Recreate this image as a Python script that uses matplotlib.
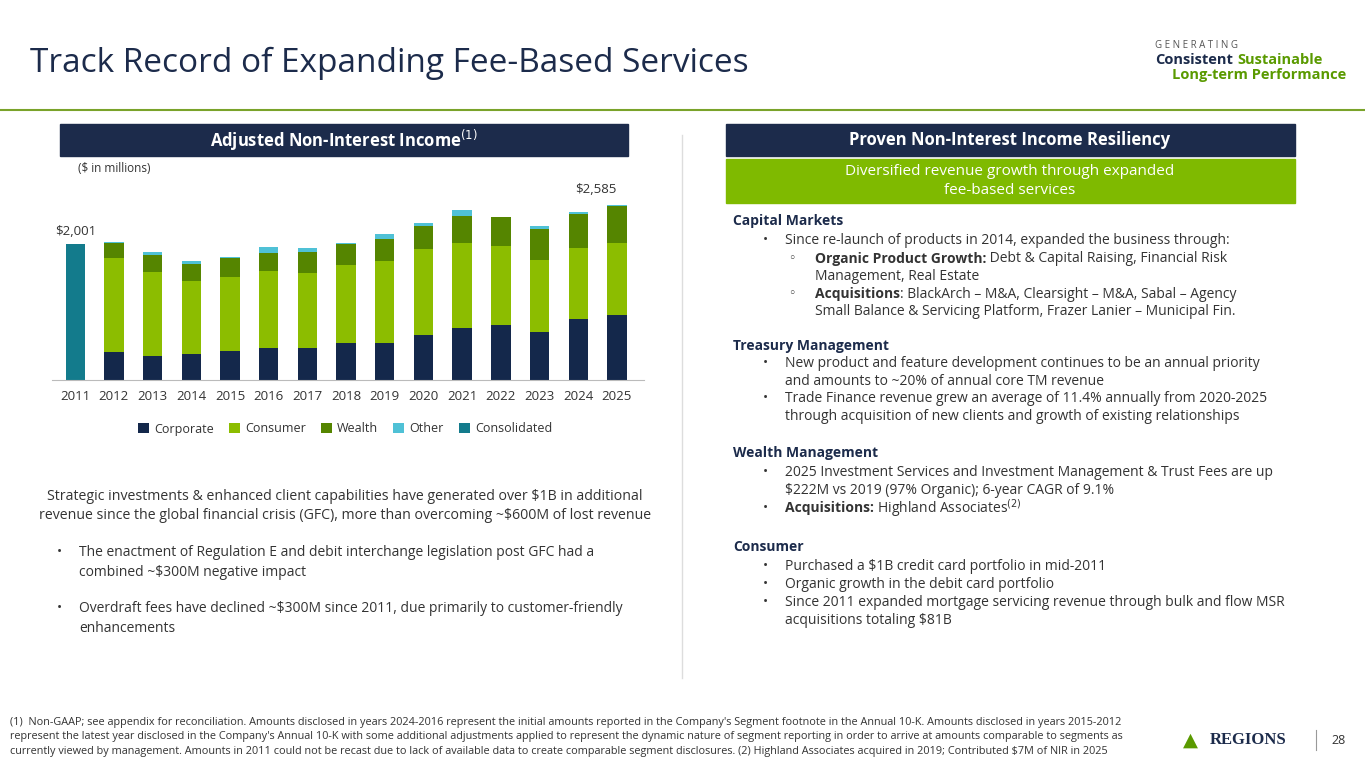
import matplotlib
matplotlib.use("Agg")
import matplotlib.pyplot as plt
import numpy as np
from matplotlib.patches import Rectangle

plt.rcParams['font.family'] = ['Open Sans', 'DejaVu Sans']

# data ($ in millions)
years = ['2011', '2012', '2013', '2014', '2015', '2016', '2017', '2018',
         '2019', '2020', '2021', '2022', '2023', '2024', '2025']
consolidated = [2001, 0, 0, 0, 0, 0, 0, 0, 0, 0, 0, 0, 0, 0, 0]
corporate = [0, 412, 353, 382, 426, 475, 475, 539, 539, 666, 760, 809, 711, 902, 965]
consumer = [0, 1387, 1245, 1073, 1088, 1137, 1103, 1152, 1210, 1259, 1259, 1161, 1054, 1039, 1052]
wealth = [0, 220, 245, 250, 284, 265, 314, 314, 328, 343, 392, 426, 461, 505, 549]
other = [0, 15, 49, 44, 15, 78, 49, 10, 69, 49, 93, 0, 49, 25, 19]

NAVY = '#14284b'
LGREEN = '#8cbd00'
DGREEN = '#558500'
CYAN = '#4fc1d6'
TEAL = '#137b8c'
HDR = '#1c2b4b'
GREY = '#333333'

W, H = 1365, 768
fig = plt.figure(figsize=(13.65, 7.68), dpi=100)
rend = fig.canvas.get_renderer()

def px(x, y):
    return x / W, 1 - y / H

def txt(x, y, s, **kw):
    return fig.text(*px(x, y), s, **kw)

def runs(x, y, bold, rest, size=10, color=GREY, gap=0, color2=None):
    t = txt(x, y, bold, fontsize=size, color=color, weight='bold', va='center')
    w = t.get_window_extent(rend).width if bold else 0
    txt(x + w + gap, y, rest, fontsize=size, color=color2 or color, va='center')

# title + rule
txt(30, 63, 'Track Record of Expanding Fee-Based Services', fontsize=24, color=HDR, va='center')
fig.add_artist(plt.Line2D([0, 1], [1 - 110 / H] * 2, color='#7aa32a', lw=1.5))
txt(1155, 45, 'G E N E R A T I N G', fontsize=7, color='#555555', va='center')
t = txt(1155, 60, 'Consistent', fontsize=10.5, color=HDR, weight='bold', va='center')
cw = t.get_window_extent(rend).width
txt(1155 + cw + 4, 60, 'Sustainable', fontsize=10.5, color='#5a9a00', weight='bold', va='center')
txt(1172, 75, 'Long-term Performance', fontsize=10.5, color='#5a9a00', weight='bold', va='center')

# header bars
def bar_box(x0, y0, x1, y1, color):
    fig.add_artist(Rectangle(px(x0, y1), (x1 - x0) / W, (y1 - y0) / H, color=color,
                             transform=fig.transFigure))

bar_box(60, 124, 628, 156, HDR)
txt(344, 140, 'Adjusted Non-Interest Income$^{(1)}$', fontsize=12, color='white',
    weight='bold', ha='center', va='center')
bar_box(726, 124, 1295, 156, HDR)
txt(1010, 140, 'Proven Non-Interest Income Resiliency', fontsize=12, color='white',
    weight='bold', ha='center', va='center')
bar_box(726, 159, 1295, 203, '#7fba00')
txt(1010, 181, 'Diversified revenue growth through expanded\nfee-based services', fontsize=11,
    color='white', ha='center', va='center', linespacing=1.3)
fig.add_artist(plt.Line2D([682 / W] * 2, [1 - 135 / H, 1 - 678 / H], color='#dddddd', lw=1))

# chart
ax = fig.add_axes([52 / W, 1 - 380 / H, 592 / W, 190 / H])
x = np.arange(len(years))
bw = 0.5
ax.bar(x, consolidated, bw, color=TEAL, label='Consolidated')
b = np.zeros(len(years))
for vals, col, lab in [(corporate, NAVY, 'Corporate'), (consumer, LGREEN, 'Consumer'),
                       (wealth, DGREEN, 'Wealth'), (other, CYAN, 'Other')]:
    ax.bar(x, vals, bw, bottom=b, color=col, label=lab)
    b += np.array(vals)
ax.set_xlim(-0.6, len(years) - 0.3)
ax.set_ylim(0, 2800)
ax.set_yticks([])
for s in ['top', 'left', 'right']:
    ax.spines[s].set_visible(False)
ax.spines['bottom'].set_color('#bbbbbb')
ax.set_xticks(x, years, fontsize=9.5, color=GREY)
ax.tick_params(axis='x', length=0, pad=7)
ax.text(0, 2001 + 90, '$2,001', ha='center', va='bottom', fontsize=9.5, color=GREY)
ax.text(14, 2585 + 130, '$2,585', ha='right', va='bottom', fontsize=9.5, color=GREY)
txt(78, 168, '($ in millions)', fontsize=8.5, color=GREY, va='center')

handles, labels = ax.get_legend_handles_labels()
order = [1, 2, 3, 4, 0]
fig.legend([handles[i] for i in order], [labels[i] for i in order], loc='center',
           bbox_to_anchor=(345 / W, 1 - 429 / H), ncol=5, frameon=False, fontsize=9,
           handlelength=0.9, handleheight=0.9, columnspacing=1.2, handletextpad=0.4,
           labelcolor=GREY)

# left text
txt(345, 506, 'Strategic investments & enhanced client capabilities have generated over $1B in additional\n'
    'revenue since the global financial crisis (GFC), more than overcoming ~$600M of lost revenue',
    fontsize=10.2, color=GREY, ha='center', va='center', linespacing=1.45)
left_bul = [(553, 'The enactment of Regulation E and debit interchange legislation post GFC had a'),
            (572, 'combined ~$300M negative impact'),
            (609, 'Overdraft fees have declined ~$300M since 2011, due primarily to customer-friendly'),
            (628, 'enhancements')]
for i, (yy, s) in enumerate(left_bul):
    if i in (0, 2):
        txt(57, yy, '•', fontsize=10, color=GREY, va='center')
    txt(79, yy, s, fontsize=10, color=GREY, va='center')

# right text
R = [
    (221, 733, 'Capital Markets', '', 'h'),
    (241, 785, '', 'Since re-launch of products in 2014, expanded the business through:', 'b'),
    (259, 815, 'Organic Product Growth:', ' Debt & Capital Raising, Financial Risk', 'c'),
    (277, 815, '', 'Management, Real Estate', ''),
    (294, 815, 'Acquisitions', ': BlackArch – M&A, Clearsight – M&A, Sabal – Agency', 'c'),
    (311, 815, '', 'Small Balance & Servicing Platform, Frazer Lanier – Municipal Fin.', ''),
    (346, 733, 'Treasury Management', '', 'h'),
    (364, 785, '', 'New product and feature development continues to be an annual priority', 'b'),
    (382, 785, '', 'and amounts to ~20% of annual core TM revenue', ''),
    (399, 785, '', 'Trade Finance revenue grew an average of 11.4% annually from 2020-2025', 'b'),
    (417, 785, '', 'through acquisition of new clients and growth of existing relationships', ''),
    (453, 733, 'Wealth Management', '', 'h'),
    (472, 785, '', '2025 Investment Services and Investment Management & Trust Fees are up', 'b'),
    (490, 785, '', '$222M vs 2019 (97% Organic); 6-year CAGR of 9.1%', ''),
    (508, 785, 'Acquisitions:', ' Highland Associates$^{(2)}$', 'b'),
    (547, 733, 'Consumer', '', 'h'),
    (566, 785, '', 'Purchased a $1B credit card portfolio in mid-2011', 'b'),
    (584, 785, '', 'Organic growth in the debit card portfolio', 'b'),
    (603, 785, '', 'Since 2011 expanded mortgage servicing revenue through bulk and flow MSR', 'b'),
    (621, 785, '', 'acquisitions totaling $81B', ''),
]
for yy, xx, bold, rest, kind in R:
    if kind == 'h':
        runs(xx, yy, bold, '', color=HDR)
        continue
    if kind == 'b':
        txt(763, yy, '•', fontsize=10, color=GREY, va='center')
    if kind == 'c':
        txt(788, yy, '◦', fontsize=9, color=GREY, va='center')
    runs(xx, yy, bold, rest)

# footnote
txt(10, 737, "(1)  Non-GAAP; see appendix for reconciliation. Amounts disclosed in years 2024-2016 represent the initial amounts reported in the Company's Segment footnote in the Annual 10-K. Amounts disclosed in years 2015-2012\n"
    "represent the latest year disclosed in the Company's Annual 10-K with some additional adjustments applied to represent the dynamic nature of segment reporting in order to arrive at amounts comparable to segments as\n"
    "currently viewed by management. Amounts in 2011 could not be recast due to lack of available data to create comparable segment disclosures. (2) Highland Associates acquired in 2019; Contributed $7M of NIR in 2025",
    fontsize=7.8, color=GREY, va='center', linespacing=1.4)
txt(1210, 740, 'REGIONS', fontsize=12, color=HDR, weight='bold', va='center', family='Liberation Serif')
txt(1190, 740, '▲', fontsize=14, color='#5a9a00', va='center', ha='center', family='DejaVu Sans')
fig.add_artist(plt.Line2D([1316 / W] * 2, [1 - 730 / H, 1 - 750 / H], color='#999999', lw=0.8))
txt(1346, 740, '28', fontsize=9, color=GREY, va='center', ha='right')

fig.savefig('out.png', dpi=100)
